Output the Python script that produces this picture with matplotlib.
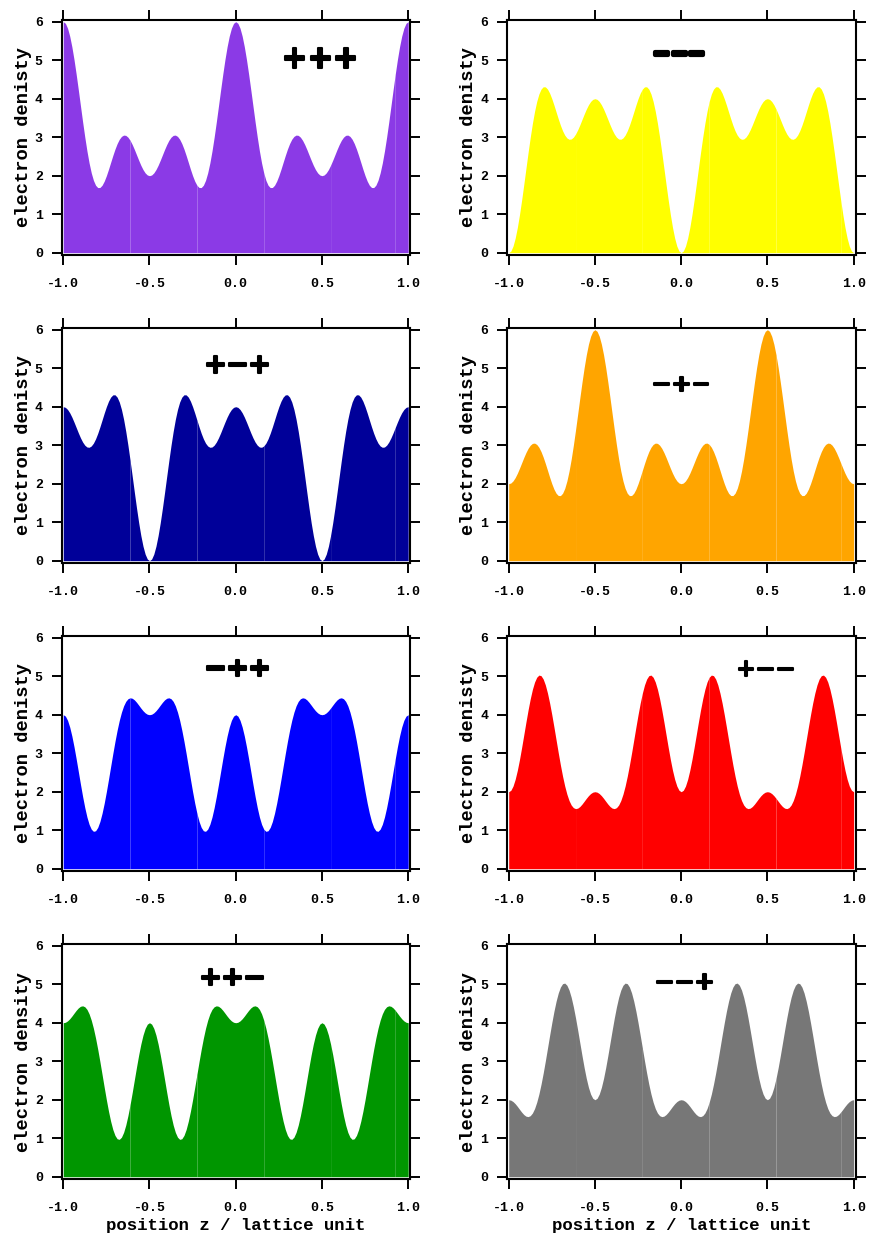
import matplotlib
matplotlib.use("Agg")
import matplotlib.pyplot as plt
import matplotlib.patheffects as pe
import numpy as np

plt.rcParams['axes.unicode_minus'] = False

# position z / lattice unit, sampled every 0.0125
z = np.linspace(-1.0, 1.0, 161)

# electron density (z = -1 ... 1)
rho_ppp = [6.000, 5.957, 5.830, 5.624, 5.348, 5.014, 4.635, 4.228, 3.809, 3.394, 3.000, 2.640, 2.328, 2.072, 1.879, 1.752, 1.691, 1.693, 1.751, 1.857, 2.000, 2.167, 2.347, 2.525, 2.691, 2.834, 2.946, 3.020, 3.054, 3.047, 3.000, 2.919, 2.809, 2.680, 2.540, 2.401, 2.270, 2.158, 2.072, 2.018, 2.000,
           2.018, 2.072, 2.158, 2.270, 2.401, 2.540, 2.680, 2.809, 2.919, 3.000, 3.047, 3.054, 3.020, 2.946, 2.834, 2.691, 2.525, 2.347, 2.167, 2.000, 1.857, 1.751, 1.693, 1.691, 1.752, 1.879, 2.072, 2.328, 2.640, 3.000, 3.394, 3.809, 4.228, 4.635, 5.014, 5.348, 5.624, 5.830, 5.957,
           6.000, 5.957, 5.830, 5.624, 5.348, 5.014, 4.635, 4.228, 3.809, 3.394, 3.000, 2.640, 2.328, 2.072, 1.879, 1.752, 1.691, 1.693, 1.751, 1.857, 2.000, 2.167, 2.347, 2.525, 2.691, 2.834, 2.946, 3.020, 3.054, 3.047, 3.000, 2.919, 2.809, 2.680, 2.540, 2.401, 2.270, 2.158, 2.072, 2.018, 2.000,
           2.018, 2.072, 2.158, 2.270, 2.401, 2.540, 2.680, 2.809, 2.919, 3.000, 3.047, 3.054, 3.020, 2.946, 2.834, 2.691, 2.525, 2.347, 2.167, 2.000, 1.857, 1.751, 1.693, 1.691, 1.752, 1.879, 2.072, 2.328, 2.640, 3.000, 3.394, 3.809, 4.228, 4.635, 5.014, 5.348, 5.624, 5.830, 5.957, 6.000]
rho_mmm = [0.000, 0.043, 0.170, 0.376, 0.652, 0.986, 1.365, 1.772, 2.191, 2.606, 3.000, 3.360, 3.672, 3.928, 4.121, 4.248, 4.309, 4.307, 4.249, 4.143, 4.000, 3.833, 3.653, 3.475, 3.309, 3.166, 3.054, 2.980, 2.946, 2.953, 3.000, 3.081, 3.191, 3.320, 3.460, 3.599, 3.730, 3.842, 3.928, 3.982, 4.000,
           3.982, 3.928, 3.842, 3.730, 3.599, 3.460, 3.320, 3.191, 3.081, 3.000, 2.953, 2.946, 2.980, 3.054, 3.166, 3.309, 3.475, 3.653, 3.833, 4.000, 4.143, 4.249, 4.307, 4.309, 4.248, 4.121, 3.928, 3.672, 3.360, 3.000, 2.606, 2.191, 1.772, 1.365, 0.986, 0.652, 0.376, 0.170, 0.043,
           0.000, 0.043, 0.170, 0.376, 0.652, 0.986, 1.365, 1.772, 2.191, 2.606, 3.000, 3.360, 3.672, 3.928, 4.121, 4.248, 4.309, 4.307, 4.249, 4.143, 4.000, 3.833, 3.653, 3.475, 3.309, 3.166, 3.054, 2.980, 2.946, 2.953, 3.000, 3.081, 3.191, 3.320, 3.460, 3.599, 3.730, 3.842, 3.928, 3.982, 4.000,
           3.982, 3.928, 3.842, 3.730, 3.599, 3.460, 3.320, 3.191, 3.081, 3.000, 2.953, 2.946, 2.980, 3.054, 3.166, 3.309, 3.475, 3.653, 3.833, 4.000, 4.143, 4.249, 4.307, 4.309, 4.248, 4.121, 3.928, 3.672, 3.360, 3.000, 2.606, 2.191, 1.772, 1.365, 0.986, 0.652, 0.376, 0.170, 0.043, 0.000]
rho_pmp = [4.000, 3.982, 3.928, 3.842, 3.730, 3.599, 3.460, 3.320, 3.191, 3.081, 3.000, 2.953, 2.946, 2.980, 3.054, 3.166, 3.309, 3.475, 3.653, 3.833, 4.000, 4.143, 4.249, 4.307, 4.309, 4.248, 4.121, 3.928, 3.672, 3.360, 3.000, 2.606, 2.191, 1.772, 1.365, 0.986, 0.652, 0.376, 0.170, 0.043, 0.000,
           0.043, 0.170, 0.376, 0.652, 0.986, 1.365, 1.772, 2.191, 2.606, 3.000, 3.360, 3.672, 3.928, 4.121, 4.248, 4.309, 4.307, 4.249, 4.143, 4.000, 3.833, 3.653, 3.475, 3.309, 3.166, 3.054, 2.980, 2.946, 2.953, 3.000, 3.081, 3.191, 3.320, 3.460, 3.599, 3.730, 3.842, 3.928, 3.982,
           4.000, 3.982, 3.928, 3.842, 3.730, 3.599, 3.460, 3.320, 3.191, 3.081, 3.000, 2.953, 2.946, 2.980, 3.054, 3.166, 3.309, 3.475, 3.653, 3.833, 4.000, 4.143, 4.249, 4.307, 4.309, 4.248, 4.121, 3.928, 3.672, 3.360, 3.000, 2.606, 2.191, 1.772, 1.365, 0.986, 0.652, 0.376, 0.170, 0.043, 0.000,
           0.043, 0.170, 0.376, 0.652, 0.986, 1.365, 1.772, 2.191, 2.606, 3.000, 3.360, 3.672, 3.928, 4.121, 4.248, 4.309, 4.307, 4.249, 4.143, 4.000, 3.833, 3.653, 3.475, 3.309, 3.166, 3.054, 2.980, 2.946, 2.953, 3.000, 3.081, 3.191, 3.320, 3.460, 3.599, 3.730, 3.842, 3.928, 3.982, 4.000]
rho_mpm = [2.000, 2.018, 2.072, 2.158, 2.270, 2.401, 2.540, 2.680, 2.809, 2.919, 3.000, 3.047, 3.054, 3.020, 2.946, 2.834, 2.691, 2.525, 2.347, 2.167, 2.000, 1.857, 1.751, 1.693, 1.691, 1.752, 1.879, 2.072, 2.328, 2.640, 3.000, 3.394, 3.809, 4.228, 4.635, 5.014, 5.348, 5.624, 5.830, 5.957, 6.000,
           5.957, 5.830, 5.624, 5.348, 5.014, 4.635, 4.228, 3.809, 3.394, 3.000, 2.640, 2.328, 2.072, 1.879, 1.752, 1.691, 1.693, 1.751, 1.857, 2.000, 2.167, 2.347, 2.525, 2.691, 2.834, 2.946, 3.020, 3.054, 3.047, 3.000, 2.919, 2.809, 2.680, 2.540, 2.401, 2.270, 2.158, 2.072, 2.018,
           2.000, 2.018, 2.072, 2.158, 2.270, 2.401, 2.540, 2.680, 2.809, 2.919, 3.000, 3.047, 3.054, 3.020, 2.946, 2.834, 2.691, 2.525, 2.347, 2.167, 2.000, 1.857, 1.751, 1.693, 1.691, 1.752, 1.879, 2.072, 2.328, 2.640, 3.000, 3.394, 3.809, 4.228, 4.635, 5.014, 5.348, 5.624, 5.830, 5.957, 6.000,
           5.957, 5.830, 5.624, 5.348, 5.014, 4.635, 4.228, 3.809, 3.394, 3.000, 2.640, 2.328, 2.072, 1.879, 1.752, 1.691, 1.693, 1.751, 1.857, 2.000, 2.167, 2.347, 2.525, 2.691, 2.834, 2.946, 3.020, 3.054, 3.047, 3.000, 2.919, 2.809, 2.680, 2.540, 2.401, 2.270, 2.158, 2.072, 2.018, 2.000]
rho_mpp = [4.000, 3.963, 3.854, 3.679, 3.446, 3.166, 2.853, 2.523, 2.191, 1.874, 1.586, 1.341, 1.152, 1.027, 0.971, 0.986, 1.073, 1.226, 1.439, 1.700, 2.000, 2.324, 2.659, 2.992, 3.309, 3.599, 3.854, 4.065, 4.230, 4.346, 4.414, 4.439, 4.427, 4.385, 4.322, 4.248, 4.172, 4.103, 4.048, 4.012, 4.000,
           4.012, 4.048, 4.103, 4.172, 4.248, 4.322, 4.385, 4.427, 4.439, 4.414, 4.346, 4.230, 4.065, 3.854, 3.599, 3.309, 2.992, 2.659, 2.324, 2.000, 1.700, 1.439, 1.226, 1.073, 0.986, 0.971, 1.027, 1.152, 1.341, 1.586, 1.874, 2.191, 2.523, 2.853, 3.166, 3.446, 3.679, 3.854, 3.963,
           4.000, 3.963, 3.854, 3.679, 3.446, 3.166, 2.853, 2.523, 2.191, 1.874, 1.586, 1.341, 1.152, 1.027, 0.971, 0.986, 1.073, 1.226, 1.439, 1.700, 2.000, 2.324, 2.659, 2.992, 3.309, 3.599, 3.854, 4.065, 4.230, 4.346, 4.414, 4.439, 4.427, 4.385, 4.322, 4.248, 4.172, 4.103, 4.048, 4.012, 4.000,
           4.012, 4.048, 4.103, 4.172, 4.248, 4.322, 4.385, 4.427, 4.439, 4.414, 4.346, 4.230, 4.065, 3.854, 3.599, 3.309, 2.992, 2.659, 2.324, 2.000, 1.700, 1.439, 1.226, 1.073, 0.986, 0.971, 1.027, 1.152, 1.341, 1.586, 1.874, 2.191, 2.523, 2.853, 3.166, 3.446, 3.679, 3.854, 3.963, 4.000]
rho_pmm = [2.000, 2.037, 2.146, 2.321, 2.554, 2.834, 3.147, 3.477, 3.809, 4.126, 4.414, 4.659, 4.848, 4.973, 5.029, 5.014, 4.927, 4.774, 4.561, 4.300, 4.000, 3.676, 3.341, 3.008, 2.691, 2.401, 2.146, 1.935, 1.770, 1.654, 1.586, 1.561, 1.573, 1.615, 1.678, 1.752, 1.828, 1.897, 1.952, 1.988, 2.000,
           1.988, 1.952, 1.897, 1.828, 1.752, 1.678, 1.615, 1.573, 1.561, 1.586, 1.654, 1.770, 1.935, 2.146, 2.401, 2.691, 3.008, 3.341, 3.676, 4.000, 4.300, 4.561, 4.774, 4.927, 5.014, 5.029, 4.973, 4.848, 4.659, 4.414, 4.126, 3.809, 3.477, 3.147, 2.834, 2.554, 2.321, 2.146, 2.037,
           2.000, 2.037, 2.146, 2.321, 2.554, 2.834, 3.147, 3.477, 3.809, 4.126, 4.414, 4.659, 4.848, 4.973, 5.029, 5.014, 4.927, 4.774, 4.561, 4.300, 4.000, 3.676, 3.341, 3.008, 2.691, 2.401, 2.146, 1.935, 1.770, 1.654, 1.586, 1.561, 1.573, 1.615, 1.678, 1.752, 1.828, 1.897, 1.952, 1.988, 2.000,
           1.988, 1.952, 1.897, 1.828, 1.752, 1.678, 1.615, 1.573, 1.561, 1.586, 1.654, 1.770, 1.935, 2.146, 2.401, 2.691, 3.008, 3.341, 3.676, 4.000, 4.300, 4.561, 4.774, 4.927, 5.014, 5.029, 4.973, 4.848, 4.659, 4.414, 4.126, 3.809, 3.477, 3.147, 2.834, 2.554, 2.321, 2.146, 2.037, 2.000]
rho_ppm = [4.000, 4.012, 4.048, 4.103, 4.172, 4.248, 4.322, 4.385, 4.427, 4.439, 4.414, 4.346, 4.230, 4.065, 3.854, 3.599, 3.309, 2.992, 2.659, 2.324, 2.000, 1.700, 1.439, 1.226, 1.073, 0.986, 0.971, 1.027, 1.152, 1.341, 1.586, 1.874, 2.191, 2.523, 2.853, 3.166, 3.446, 3.679, 3.854, 3.963, 4.000,
           3.963, 3.854, 3.679, 3.446, 3.166, 2.853, 2.523, 2.191, 1.874, 1.586, 1.341, 1.152, 1.027, 0.971, 0.986, 1.073, 1.226, 1.439, 1.700, 2.000, 2.324, 2.659, 2.992, 3.309, 3.599, 3.854, 4.065, 4.230, 4.346, 4.414, 4.439, 4.427, 4.385, 4.322, 4.248, 4.172, 4.103, 4.048, 4.012,
           4.000, 4.012, 4.048, 4.103, 4.172, 4.248, 4.322, 4.385, 4.427, 4.439, 4.414, 4.346, 4.230, 4.065, 3.854, 3.599, 3.309, 2.992, 2.659, 2.324, 2.000, 1.700, 1.439, 1.226, 1.073, 0.986, 0.971, 1.027, 1.152, 1.341, 1.586, 1.874, 2.191, 2.523, 2.853, 3.166, 3.446, 3.679, 3.854, 3.963, 4.000,
           3.963, 3.854, 3.679, 3.446, 3.166, 2.853, 2.523, 2.191, 1.874, 1.586, 1.341, 1.152, 1.027, 0.971, 0.986, 1.073, 1.226, 1.439, 1.700, 2.000, 2.324, 2.659, 2.992, 3.309, 3.599, 3.854, 4.065, 4.230, 4.346, 4.414, 4.439, 4.427, 4.385, 4.322, 4.248, 4.172, 4.103, 4.048, 4.012, 4.000]
rho_mmp = [2.000, 1.988, 1.952, 1.897, 1.828, 1.752, 1.678, 1.615, 1.573, 1.561, 1.586, 1.654, 1.770, 1.935, 2.146, 2.401, 2.691, 3.008, 3.341, 3.676, 4.000, 4.300, 4.561, 4.774, 4.927, 5.014, 5.029, 4.973, 4.848, 4.659, 4.414, 4.126, 3.809, 3.477, 3.147, 2.834, 2.554, 2.321, 2.146, 2.037, 2.000,
           2.037, 2.146, 2.321, 2.554, 2.834, 3.147, 3.477, 3.809, 4.126, 4.414, 4.659, 4.848, 4.973, 5.029, 5.014, 4.927, 4.774, 4.561, 4.300, 4.000, 3.676, 3.341, 3.008, 2.691, 2.401, 2.146, 1.935, 1.770, 1.654, 1.586, 1.561, 1.573, 1.615, 1.678, 1.752, 1.828, 1.897, 1.952, 1.988,
           2.000, 1.988, 1.952, 1.897, 1.828, 1.752, 1.678, 1.615, 1.573, 1.561, 1.586, 1.654, 1.770, 1.935, 2.146, 2.401, 2.691, 3.008, 3.341, 3.676, 4.000, 4.300, 4.561, 4.774, 4.927, 5.014, 5.029, 4.973, 4.848, 4.659, 4.414, 4.126, 3.809, 3.477, 3.147, 2.834, 2.554, 2.321, 2.146, 2.037, 2.000,
           2.037, 2.146, 2.321, 2.554, 2.834, 3.147, 3.477, 3.809, 4.126, 4.414, 4.659, 4.848, 4.973, 5.029, 5.014, 4.927, 4.774, 4.561, 4.300, 4.000, 3.676, 3.341, 3.008, 2.691, 2.401, 2.146, 1.935, 1.770, 1.654, 1.586, 1.561, 1.573, 1.615, 1.678, 1.752, 1.828, 1.897, 1.952, 1.988, 2.000]

series = [rho_ppp, rho_mmm, rho_pmp, rho_mpm, rho_mpp, rho_pmm, rho_ppm, rho_mmp]
labels = ['+++', '−−−', '+−+', '−+−', '−++', '+−−', '++−', '−−+']
colors = ['#8b3ae6', '#ffff00', '#000099', '#ffa500', '#0000ff', '#ff0000', '#009600', '#777777']
label_xy = [(0.49, 5.03), (-0.01, 5.16), (0.01, 5.07), (0.0, 4.58),
            (0.01, 5.18), (0.49, 5.18), (-0.02, 5.15), (0.02, 5.05)]
label_size = [22, 15, 19, 17, 19, 17, 19, 17]
ylabels = ['electron denisty'] * 6 + ['electron density', 'electron denisty']

# chunks of the fill (the original shows faint seams between them)
seams = [0, 31, 62, 93, 124, 154, 160]

mono = 'Liberation Mono'
fig = plt.figure(figsize=(8.69, 12.39), dpi=100)

lefts = [0.0708, 0.5834]
bottoms = [0.7942, 0.5456, 0.2970, 0.0484]
w, h = 0.4015, 0.1897

for i, rho in enumerate(series):
    row, col = divmod(i, 2)
    ax = fig.add_axes([lefts[col], bottoms[row], w, h])
    rho = np.array(rho)
    for a, b in zip(seams[:-1], seams[1:]):
        ax.fill_between(z[a:b + 1], 0, rho[a:b + 1], color=colors[i], lw=0)
    ax.set_xlim(-1.01, 1.013)
    ax.set_ylim(-0.06, 6.045)
    ax.set_xticks([-1.0, -0.5, 0.0, 0.5, 1.0])
    ax.set_xticklabels(['-1.0', '-0.5', '0.0', '0.5', '1.0'])
    ax.set_yticks(range(7))
    ax.tick_params(direction='out', length=7.5, width=1.4, top=True, right=True,
                   labelsize=9.5, pad=6)
    ax.tick_params(axis='x', pad=9)
    for lab in ax.get_xticklabels() + ax.get_yticklabels():
        lab.set_family(mono)
        lab.set_weight('bold')
    for sp in ax.spines.values():
        sp.set_linewidth(1.5)
    ax.set_ylabel(ylabels[i], family=mono, weight='bold', fontsize=13.5, labelpad=2)
    if row == 3:
        ax.set_xlabel('position z / lattice unit', family=mono, weight='bold',
                      fontsize=12.5, labelpad=3)
    tx, ty = label_xy[i]
    lw = 3 if i == 1 else 1.5
    ax.text(tx, ty, labels[i], ha='center', va='center', fontsize=label_size[i],
            fontweight='bold', family='DejaVu Sans',
            path_effects=[pe.withStroke(linewidth=lw, foreground='black')])

fig.savefig('out.png', dpi=100)
